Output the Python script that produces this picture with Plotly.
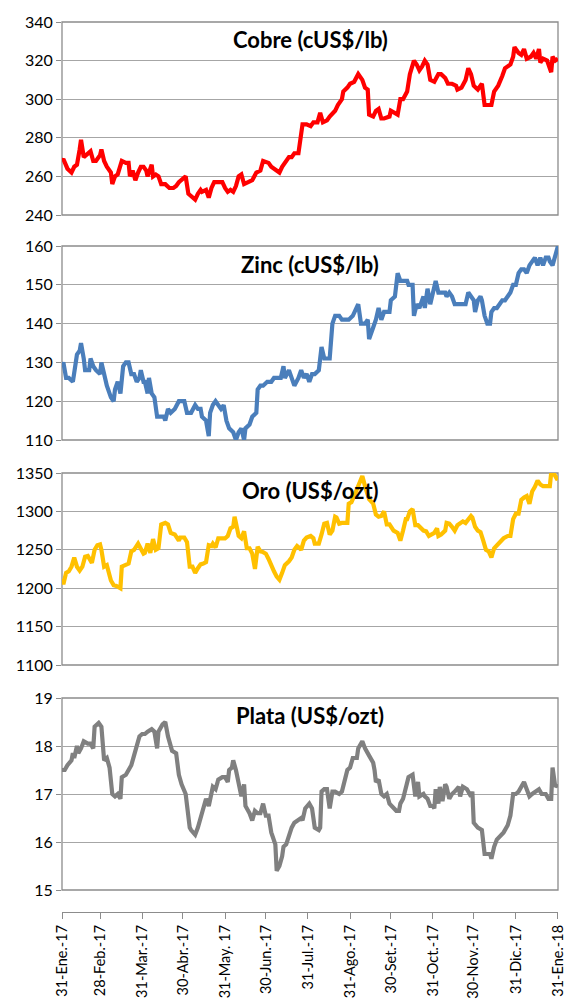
import pandas as pd
import plotly.graph_objects as go

FECHA_INICIO = "2017-01-31"

# ---------------- data (days after 31-Ene-17, price) ----------------
cobre_dias = [0,1,4,7,9,11,13,14,16,19,21,23,25,28,29,31,33,36,37,39,41,44,47,49,50,52,54,56,58,60,62,63,66,67,69,71,73,76,79,82,84,86,88,91,93,95,98,100,102,103,106,108,110,112,114,116,118,120,122,124,126,128,130,132,134,137,140,143,146,148,152,154,156,160,162,164,167,169,171,174,176,177,180,183,185,188,190,192,195,197,201,203,206,207,210,212,215,218,221,223,225,226,229,231,233,235,237,241,242,244,247,249,251,254,256,259,261,263,265,267,269,271,274,277,279,282,284,287,290,291,294,297,299,301,303,306,309,311,314,316,318,321,324,326,330,332,333,336,338,340,342,345,347,349,351,352,354,357,360,361,363,365]
cobre = [268,269,264,262,265,266,274,279,270,272,273,268,268,271,274,268,265,262,256,260,261,268,267,267,260,263,258,262,265,265,263,260,266,260,261,260,256,256,254,254,255,257,258,260,251,250,248,251,253,252,253,249,254,257,257,257,257,254,252,253,252,255,260,261,256,257,258,262,263,268,267,265,264,262,265,267,270,270,272,272,280,287,287,286,288,288,293,288,289,291,294,297,300,304,306,308,309,313,310,306,305,292,291,294,295,290,290,291,294,293,292,300,300,304,313,320,318,315,317,320,318,310,309,313,313,311,308,308,307,305,306,310,316,313,307,305,308,297,297,297,304,307,312,316,318,322,327,324,323,326,321,322,324,321,326,319,321,320,314,322,320,321]

zinc_dias = [0,1,3,5,8,9,11,13,14,16,17,20,21,23,25,28,29,31,33,36,38,39,41,43,45,47,49,51,53,55,57,58,60,61,63,64,66,68,70,72,75,76,78,80,83,86,90,92,95,98,100,102,103,106,108,109,111,113,115,117,119,121,123,126,128,130,132,134,135,138,140,143,144,146,148,151,154,156,159,161,163,164,167,169,171,174,176,178,180,182,184,186,189,191,193,195,197,199,201,204,206,209,211,214,217,218,220,223,225,226,229,231,233,235,237,239,241,242,245,247,249,251,254,255,258,259,261,263,266,267,269,271,273,275,277,279,282,283,285,287,289,291,294,297,299,301,303,304,306,308,309,311,313,315,316,318,320,322,324,326,328,330,332,334,336,338,340,342,344,346,348,350,352,354,356,358,359,361,363,365]
zinc = [129,130,126,126,125,128,132,133,135,131,128,128,131,129,128,127,130,127,124,121,120,123,125,122,129,130,130,127,127,125,126,128,125,125,122,126,122,121,116,116,116,115,118,117,118,120,120,117,117,119,118,118,116,115,111,117,119,120,119,118,119,115,113,112,110,112,113,110,113,114,116,117,123,124,124,125,125,126,126,126,129,126,128,126,124,126,128,126,127,125,127,127,128,134,131,131,131,140,142,142,141,141,141,142,144,145,140,140,141,136,139,141,144,141,143,143,143,146,147,153,151,151,151,150,150,142,145,144,147,144,149,145,148,151,148,148,148,147,148,147,145,145,145,145,148,147,146,143,146,147,146,142,140,140,143,144,144,145,146,146,147,148,150,150,153,154,154,153,155,156,157,155,157,155,157,157,156,155,158,160]

oro_dias = [0,1,3,5,7,9,11,13,15,17,19,21,22,24,26,28,29,31,33,36,38,40,43,44,47,49,51,53,56,58,60,61,63,65,67,69,71,73,76,78,80,83,86,87,90,92,94,96,98,100,102,104,106,108,110,111,113,115,118,120,122,124,126,127,128,130,132,134,136,138,140,142,144,146,148,150,152,154,156,158,160,162,164,167,169,171,173,175,176,178,180,183,185,186,189,191,193,195,197,199,201,202,204,206,209,210,211,213,215,217,218,221,223,225,226,229,231,233,235,237,239,241,244,247,249,251,253,254,256,258,260,262,264,266,268,270,272,274,276,277,279,282,283,285,287,289,291,293,295,297,299,301,302,304,306,308,310,312,314,316,318,321,324,325,328,330,332,334,336,338,340,342,344,346,348,350,352,354,357,359,360,362,364,365]
oro = [1212,1205,1220,1222,1228,1240,1228,1223,1228,1241,1242,1236,1233,1250,1256,1257,1250,1228,1230,1210,1204,1203,1200,1228,1231,1232,1248,1250,1258,1252,1245,1246,1258,1246,1264,1250,1252,1283,1285,1283,1272,1270,1262,1266,1266,1260,1228,1228,1220,1226,1231,1232,1234,1256,1255,1258,1253,1265,1265,1265,1268,1278,1280,1293,1285,1268,1265,1274,1252,1252,1245,1225,1254,1248,1247,1245,1238,1228,1222,1215,1211,1220,1230,1235,1240,1250,1255,1252,1250,1262,1266,1268,1265,1258,1258,1270,1284,1285,1270,1275,1293,1292,1284,1285,1285,1285,1310,1312,1320,1328,1335,1346,1333,1322,1316,1310,1296,1293,1294,1300,1283,1283,1275,1272,1262,1275,1290,1290,1300,1303,1282,1282,1278,1275,1274,1268,1270,1272,1278,1268,1270,1275,1285,1284,1280,1275,1282,1285,1287,1285,1290,1294,1292,1280,1275,1273,1262,1250,1248,1240,1252,1258,1262,1265,1268,1268,1290,1297,1297,1315,1318,1320,1310,1326,1332,1340,1335,1333,1333,1333,1350,1349,1343,1344]

plata_dias = [0,2,4,7,8,9,11,12,14,16,19,21,23,24,27,29,31,33,35,37,39,41,43,44,47,49,51,53,55,57,59,61,63,66,68,70,71,74,76,78,81,84,86,88,91,92,94,95,98,100,102,104,106,108,110,111,113,115,118,120,122,123,125,126,128,130,132,134,135,138,140,142,144,146,148,150,152,154,156,157,158,160,162,163,165,167,169,171,173,176,177,179,182,184,186,189,190,191,193,195,197,199,201,204,206,208,210,212,214,217,218,221,223,226,229,230,231,233,235,237,239,241,243,246,248,249,251,253,255,258,260,262,263,266,267,269,271,273,274,275,277,278,280,282,283,285,287,289,291,292,293,295,298,299,301,302,303,306,309,311,313,315,316,318,320,322,324,325,328,330,332,334,336,338,340,342,344,346,349,351,353,356,358,360,361,363,365]
plata = [17.5,17.5,17.6,17.7,17.85,17.75,18.0,17.85,17.95,18.1,18.05,18.05,17.95,18.4,18.48,18.4,17.7,17.75,17.55,17.0,16.95,17.0,16.9,17.35,17.4,17.5,17.6,17.8,18.0,18.2,18.25,18.25,18.3,18.35,18.3,17.95,18.3,18.45,18.5,18.2,17.9,17.85,17.4,17.2,17.0,16.7,16.3,16.25,16.15,16.3,16.5,16.65,16.9,16.75,17.0,17.15,17.1,17.3,17.35,17.35,17.25,17.5,17.55,17.7,17.5,17.2,16.95,17.2,16.75,16.6,16.45,16.65,16.6,16.6,16.8,16.55,16.55,16.2,16.0,15.95,15.4,15.5,15.7,15.9,15.95,16.15,16.3,16.4,16.45,16.5,16.45,16.7,16.8,16.7,16.3,16.25,16.3,17.05,17.1,17.1,16.7,17.05,17.05,17.0,17.05,17.25,17.5,17.55,17.75,17.75,17.95,18.1,17.95,17.8,17.65,17.5,17.25,17.3,17.0,16.95,17.0,16.8,16.75,16.65,16.65,16.8,16.9,17.15,17.35,17.4,16.95,17.25,16.95,17.0,16.95,16.9,16.75,16.75,16.7,17.1,16.8,17.15,16.85,17.2,17.15,16.9,17.0,17.05,17.1,17.15,16.95,17.15,17.1,17.05,16.95,17.05,16.4,16.3,16.25,15.75,15.75,15.75,15.65,15.9,16.05,16.1,16.15,16.2,16.35,16.55,17.0,17.0,17.05,17.15,17.25,17.1,16.95,17.0,17.05,17.1,17.0,17.0,16.9,16.9,17.55,17.15,17.2]

titulos = ["Cobre (cUS$/lb)", "Zinc (cUS$/lb)", "Oro (US$/ozt)", "Plata (US$/ozt)"]
colores = ["#FF0000", "#4A7EBB", "#FFC000", "#808080"]
rangos_y = [(240, 340, 20), (110, 160, 10), (1100, 1350, 50), (15, 19, 1)]

x_ticks = ["2017-01-31","2017-02-28","2017-03-31","2017-04-30","2017-05-31","2017-06-30",
           "2017-07-31","2017-08-31","2017-09-30","2017-10-31","2017-11-30","2017-12-31","2018-01-31"]
x_labels = ["31-Ene.-17","28-Feb.-17","31-Mar.-17","30-Abr.-17","31-May. 17","30-Jun.-17",
            "31-Jul.-17","31-Ago.-17","30-Set.-17","31-Oct.-17","30-Nov.-17","31-Dic.-17","31-Ene.-18"]

# ---------------- figure ----------------
base = pd.Timestamp(FECHA_INICIO)
def fechas(d):
    return [base + pd.Timedelta(days=int(v)) for v in d]

series = [(cobre_dias, cobre), (zinc_dias, zinc), (oro_dias, oro), (plata_dias, plata)]

H = 999
def pf(px):
    return 1 - px / H

dominios = [(pf(215), pf(22)), (pf(440), pf(246)), (pf(665), pf(473)), (pf(890), pf(698))]

GRID = "#A6A6A6"
AXIS = "#8C8C8C"
FONT = "Lato, 'Open Sans', sans-serif"

fig = go.Figure()
layout = dict(
    width=565, height=999,
    margin=dict(l=62, r=7, t=0, b=0),
    paper_bgcolor="white", plot_bgcolor="white",
    showlegend=False,
    font=dict(family=FONT, size=16, color="#000000"),
    shapes=[], annotations=[],
)

xr = [x_ticks[0] + " 00:00", x_ticks[-1] + " 00:20"]
for i, ((d, v), tit, col, (y0, y1, dt), dom) in enumerate(zip(series, titulos, colores, rangos_y, dominios)):
    n = "" if i == 0 else str(i + 1)
    fig.add_trace(go.Scatter(x=fechas(d), y=v, mode="lines",
                             line=dict(color=col, width=4.2),
                             xaxis="x" + n, yaxis="y" + n, hoverinfo="x+y", cliponaxis=True))
    last = (i == 3)
    xa = dict(domain=[0, 1], range=xr, type="date", showgrid=False, zeroline=False,
              fixedrange=True)
    if last:
        xa.update(anchor="free", position=pf(912), showline=True, linecolor=AXIS, linewidth=1.3,
                  tickmode="array", tickvals=x_ticks, ticktext=x_labels, tickangle=-90,
                  ticks="outside", ticklen=6, tickcolor=AXIS, tickwidth=1.3,
                  tickfont=dict(size=14.5), automargin=False, ticklabeloverflow="allow")
    else:
        xa.update(anchor="y" + n, showticklabels=False, showline=False, ticks="")
    ya = dict(domain=list(dom), range=[y0, y1], anchor="x" + n, tick0=y0, dtick=dt,
              showgrid=True, gridcolor=GRID, gridwidth=1.3, zeroline=False,
              showline=False, ticks="outside", ticklen=5, tickcolor=AXIS, tickwidth=1.3,
              tickfont=dict(size=16), automargin=False, fixedrange=True)
    layout["xaxis" + n] = xa
    layout["yaxis" + n] = ya
    layout["shapes"].append(dict(type="rect", xref="x%s domain" % n, yref="y%s domain" % n,
                                 x0=0, x1=1, y0=0, y1=1, line=dict(color=AXIS, width=1.3),
                                 layer="below"))
    layout["annotations"].append(dict(text="<b>%s</b>" % tit, xref="x%s domain" % n,
                                      yref="y%s domain" % n, x=0.5, y=0.907,
                                      xanchor="center", yanchor="middle", showarrow=False,
                                      font=dict(size=22, family=FONT, color="#000000")))

fig.update_layout(**layout)
fig.write_html("out.html", config={"displayModeBar": False},
               post_script="document.body.style.margin='0';document.body.style.overflow='hidden';")
